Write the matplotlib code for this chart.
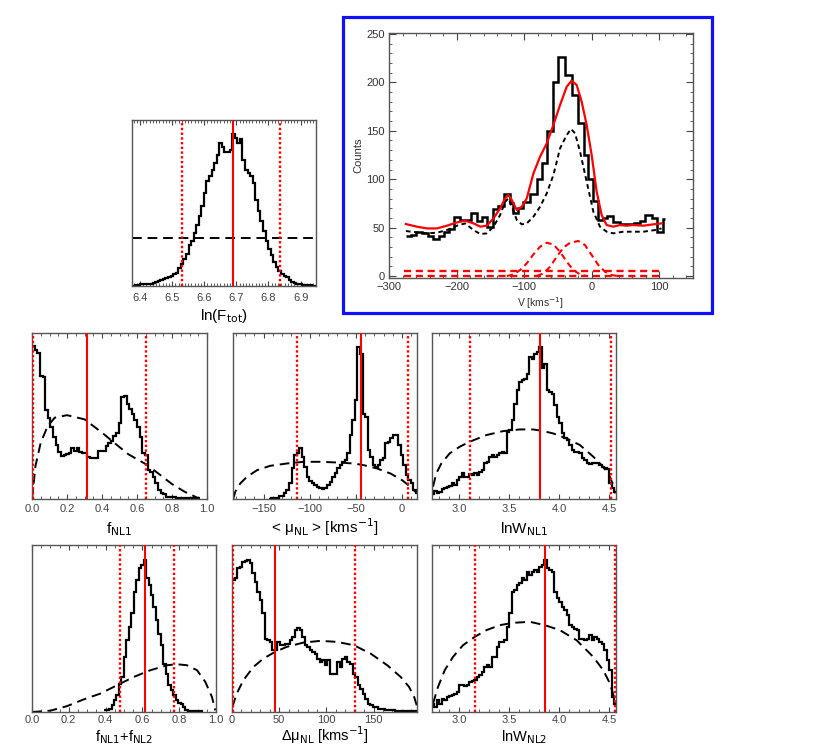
import numpy as np
import matplotlib
matplotlib.use('Agg')
import matplotlib.pyplot as plt
from matplotlib.patches import Rectangle
from matplotlib.ticker import MultipleLocator

plt.rcParams['font.family'] = ['Liberation Sans Narrow', 'Liberation Sans', 'DejaVu Sans']
plt.rcParams['mathtext.fontset'] = 'custom'
plt.rcParams['mathtext.rm'] = 'Liberation Sans Narrow'
plt.rcParams['mathtext.it'] = 'Liberation Sans Narrow:italic'

# ---- spectrum (top right panel) ----
spec_edges = [-275, -267, -259.6, -251, -243, -235, -226.6, -219.2, -211.8, -203.4,
              -195.6, -187.2, -178.8, -170, -162.6, -154.2, -146.3, -138, -130.5, -120.7,
              -115.8, -108.4, -102, -91, -81.3, -73.9, -66.5, -56.7, -49.3, -39.4,
              -29.6, -19.7, -11.3, -5, 2.5, 9.9, 17.2, 22.2, 32, 42,
              62, 71, 79, 89, 96, 106, 108]
spec_counts = [41, 42, 46, 44, 41, 38, 41, 46, 49, 61,
               58, 58, 65, 57, 61, 51, 69, 72, 85, 75,
               65, 70, 76, 85, 100, 117, 150, 200, 226, 208,
               187, 158, 125, 100, 78, 58, 60, 62, 56, 54,
               55, 57, 63, 60, 46, 59]

model_v = [-275, -258.6, -243.8, -229, -214.3, -199.5, -187.2, -174.9, -165, -155.2,
           -145.3, -135.5, -128.1, -123.2, -118.2, -110.8, -103.4, -96.1, -86.2, -76.4,
           -66.5, -56.7, -46.8, -36.9, -29.6, -22.2, -14.8, -7.4, 0, 7.4,
           14.8, 22.2, 32, 41.9, 51.7, 61.6, 76.4, 91.1, 103.4]
model_counts = [53.7, 51, 49.2, 49.2, 52, 55.4, 57.2, 54.4, 51, 52,
                59.6, 69.9, 80.2, 83.7, 78.5, 68.2, 71.6, 80.2, 106, 123.3,
                137, 156, 176.7, 195.6, 201.8, 197.3, 180, 156, 125, 87.1,
                63, 52.7, 51, 52.7, 52, 52.7, 52, 53.4, 54.4]

broad_v = [-275, -258.6, -243.8, -229, -214.3, -199.5, -187.2, -174.9, -165, -155.2,
           -145.3, -135.5, -128.1, -123.2, -118.2, -110.8, -103.4, -96.1, -86.2, -76.4,
           -66.5, -56.7, -46.8, -36.9, -30.5, -24.6, -17.2, -7.4, 2.5, 12.3,
           22.2, 32, 46.8, 61.6, 76.4, 93.6, 103.4]
broad_counts = [46.5, 45.1, 44.1, 44.8, 47.5, 52, 54.4, 47.5, 43.4, 44.1,
                51, 63, 76.8, 80.2, 71.6, 57.9, 53.4, 54.4, 61.3, 71.6,
                85.4, 104.3, 131.9, 145.7, 151.9, 147.4, 128.4, 97.5, 66.5, 51,
                45.8, 44.1, 45.8, 45.8, 45.8, 47.5, 49.2]

nl1_v = [-125.6, -115.8, -105.9, -96.1, -86.2, -76.4, -66.5, -56.7, -46.8, -36.9, -27.1, -17.2, -7.4]
nl1_counts = [0, 1.7, 6.2, 13.1, 22.4, 30.3, 34.4, 32.7, 25.1, 14.8, 6.2, 1.7, 0]
nl2_v = [-81.3, -71.4, -61.6, -51.7, -41.9, -32, -19.7, -9.9, 0, 9.9, 19.7, 29.6, 39.4]
nl2_counts = [0, 2.8, 9.6, 20, 29.3, 34.4, 36.2, 32, 21.7, 11.4, 4.5, 1, 0]
flat_v = [-278, 100]
flat_levels = [5, 0]

# ---- posterior histograms (heights as fraction of panel height) ----
lnf_lo, lnf_bin = 6.375, 0.008
lnf_hist = [0.3, 0.5, 0.8, 1.2, 1.4, 1.5, 1.4, 1.2, 1.6, 2.5, 3, 3.5, 4.4, 4.8, 5.5, 6, 7, 8,
            11, 13, 16, 19.5, 24.5, 27, 32, 37, 42, 48, 56, 63, 66, 70, 74, 79, 86, 84,
            81, 80.5, 82, 91.5, 89, 86, 88.5, 76, 70, 68, 66, 62, 52, 45, 39, 33, 27, 22,
            18.5, 14.5, 11.5, 9, 7.2, 6, 5.5, 3.8, 2.6, 2, 1.5, 1.1, 0.9, 0.7, 0.5, 0.4, 0.3, 0.2]
lnf_prior = 28.7
lnf_best, lnf_lims = 6.69, [6.53, 6.835]

fnl1_lo, fnl1_bin = 0.0, 0.015
fnl1_hist = [0.92, 0.90, 0.88, 0.74, 0.735, 0.535, 0.485, 0.435, 0.375, 0.325,
             0.285, 0.259, 0.265, 0.269, 0.275, 0.305, 0.289, 0.305, 0.285, 0.275,
             0.275, 0.255, 0.245, 0.245, 0.25, 0.289, 0.289, 0.29, 0.319, 0.339,
             0.35, 0.38, 0.40, 0.455, 0.615, 0.62, 0.575, 0.545, 0.515, 0.475,
             0.435, 0.375, 0.275, 0.265, 0.174, 0.164, 0.134, 0.094, 0.054, 0.035,
             0.028, 0.014, 0.014, 0.012, 0.01, 0.006, 0.004, 0.004, 0.004, 0.004,
             0.004, 0.004, 0.004, 0.008]
fnl1_px = [0.0, 0.02, 0.05, 0.09, 0.13, 0.2, 0.3, 0.4, 0.48, 0.55, 0.65, 0.72, 0.8, 0.87, 0.95]
fnl1_py = [0.0, 0.20, 0.34, 0.44, 0.49, 0.505, 0.48, 0.40, 0.33, 0.27, 0.21, 0.155, 0.09, 0.045, 0.005]
fnl1_best, fnl1_lims = 0.315, [0.003, 0.653]

mu_lo, mu_bin = -144.5, 2.75
mu_hist = [0.0, 0.004, 0.008, 0.008, 0.018, 0.018, 0.034, 0.054, 0.094, 0.184,
           0.265, 0.275, 0.305, 0.255, 0.194, 0.134, 0.108, 0.094, 0.084, 0.074,
           0.068, 0.058, 0.068, 0.084, 0.104, 0.134, 0.154, 0.184, 0.204, 0.224,
           0.234, 0.275, 0.385, 0.475, 0.595, 0.916, 0.876, 0.515, 0.495, 0.295,
           0.255, 0.204, 0.194, 0.204, 0.234, 0.245, 0.335, 0.345, 0.365, 0.385,
           0.385, 0.325, 0.265, 0.204, 0.144, 0.114, 0.094, 0.054, 0.034]
mu_px = [-183, -180.7, -175.3, -168, -157, -142.8, -124.7, -106.6, -88.5, -70.5,
         -52.4, -41.6, -27.1, -12.6, 0, 9, 14.5]
mu_py = [0.0, 0.044, 0.094, 0.134, 0.174, 0.2, 0.214, 0.224, 0.224, 0.22,
         0.214, 0.204, 0.184, 0.154, 0.114, 0.074, 0.044]
mu_best, mu_lims = -44.5, [-113.8, 6.5]

lnw1_lo, lnw1_bin = 2.725, 0.025
lnw1_hist = [0.03, 0.05, 0.038, 0.044, 0.058, 0.068, 0.074, 0.078, 0.094, 0.084,
             0.114, 0.134, 0.154, 0.13, 0.134, 0.15, 0.144, 0.158, 0.144, 0.164,
             0.174, 0.214, 0.224, 0.255, 0.265, 0.255, 0.265, 0.275, 0.285, 0.275,
             0.405, 0.415, 0.475, 0.575, 0.655, 0.705, 0.716, 0.725, 0.755, 0.856,
             0.846, 0.876, 0.886, 0.916, 0.79, 0.816, 0.655, 0.645, 0.635, 0.565,
             0.495, 0.455, 0.395, 0.365, 0.355, 0.325, 0.295, 0.285, 0.285, 0.275,
             0.245, 0.234, 0.214, 0.21, 0.214, 0.218, 0.214, 0.204, 0.194, 0.184,
             0.178, 0.094, 0.064, 0.04]
lnw1_px = [2.74, 2.773, 2.823, 2.907, 3.007, 3.107, 3.273, 3.44, 3.607, 3.74,
           3.84, 3.94, 4.073, 4.207, 4.34, 4.423, 4.49, 4.533, 4.557]
lnw1_py = [0.074, 0.154, 0.214, 0.275, 0.315, 0.345, 0.385, 0.409, 0.419, 0.419,
           0.409, 0.395, 0.365, 0.325, 0.255, 0.204, 0.154, 0.094, 0.034]
lnw1_best, lnw1_lims = 3.813, [3.107, 4.52]

fsum_lo, fsum_bin = 0.392, 0.0134
fsum_hist = [0.01, 0.01, 0.02, 0.04, 0.07, 0.10, 0.17, 0.21, 0.33, 0.43,
             0.51, 0.59, 0.72, 0.79, 0.86, 0.88, 0.91, 0.80, 0.76, 0.70,
             0.63, 0.55, 0.47, 0.40, 0.29, 0.23, 0.16, 0.13, 0.10, 0.07,
             0.054, 0.046, 0.03, 0.014, 0.008, 0.004, 0.004, 0.004, 0.004, 0.004]
fsum_px = [0.0, 0.1, 0.19, 0.28, 0.371, 0.462, 0.553, 0.643, 0.734, 0.788, 0.842, 0.897, 0.942, 0.978, 0.996]
fsum_py = [0.0, 0.008, 0.035, 0.075, 0.11, 0.16, 0.21, 0.25, 0.28, 0.286, 0.28, 0.25, 0.18, 0.09, 0.01]
fsum_best, fsum_lims = 0.614, [0.48, 0.774]

dmu_lo, dmu_bin = 0.0, 2.66
dmu_hist = [0.79, 0.80, 0.86, 0.866, 0.90, 0.906, 0.91, 0.89, 0.83, 0.78,
            0.72, 0.67, 0.59, 0.44, 0.43, 0.42, 0.374, 0.374, 0.42, 0.40,
            0.40, 0.41, 0.41, 0.43, 0.45, 0.49, 0.504, 0.49, 0.45, 0.40,
            0.39, 0.37, 0.36, 0.35, 0.32, 0.30, 0.314, 0.28, 0.31, 0.23,
            0.23, 0.23, 0.30, 0.27, 0.32, 0.33, 0.30, 0.29, 0.23, 0.21,
            0.16, 0.14, 0.11, 0.08, 0.05, 0.04, 0.03, 0.03, 0.02, 0.02,
            0.02, 0.014, 0.014, 0.014, 0.014, 0.006, 0.006, 0.006, 0.006, 0.004,
            0.004, 0.004, 0.004, 0.004]
dmu_px = [0.35, 5, 12, 22.7, 33.3, 45.7, 58, 75.9, 93.6, 111, 129, 146.8, 164.5, 178.7, 187.6, 193, 195.7]
dmu_py = [0.03, 0.11, 0.19, 0.27, 0.32, 0.36, 0.39, 0.416, 0.426, 0.42, 0.40, 0.35, 0.28, 0.21, 0.15, 0.09, 0.04]
dmu_best, dmu_lims = 45.7, [0.6, 130]

lnw2_lo, lnw2_bin = 2.725, 0.025
lnw2_hist = [0.05, 0.03, 0.07, 0.05, 0.08, 0.07, 0.09, 0.094, 0.10, 0.11,
             0.12, 0.16, 0.16, 0.154, 0.16, 0.18, 0.186, 0.19, 0.21, 0.22,
             0.24, 0.27, 0.28, 0.27, 0.33, 0.33, 0.39, 0.42, 0.42, 0.43,
             0.51, 0.59, 0.72, 0.73, 0.76, 0.77, 0.80, 0.79, 0.84, 0.82,
             0.84, 0.85, 0.84, 0.87, 0.88, 0.91, 0.86, 0.85, 0.84, 0.72,
             0.68, 0.66, 0.63, 0.61, 0.58, 0.52, 0.51, 0.50, 0.49, 0.44,
             0.44, 0.43, 0.44, 0.46, 0.43, 0.45, 0.44, 0.42, 0.41, 0.37,
             0.31, 0.25, 0.09, 0.05]
lnw2_px = [2.74, 2.79, 2.857, 2.94, 3.04, 3.157, 3.273, 3.407, 3.54, 3.707,
           3.857, 4.007, 4.173, 4.34, 4.44, 4.507, 4.547, 4.567]
lnw2_py = [0.05, 0.15, 0.25, 0.33, 0.40, 0.45, 0.49, 0.52, 0.534, 0.54,
           0.52, 0.49, 0.43, 0.33, 0.25, 0.17, 0.09, 0.03]
lnw2_best, lnw2_lims = 3.857, [3.157, 4.557]

W, H = 831, 748
fig = plt.figure(figsize=(W / 100, H / 100), dpi=100)
FRAME = '#555555'
TICKC = '#444444'


def box(l, t, r, b):
    # axes from pixel corners (left, top, right, bottom)
    return fig.add_axes([l / W, 1 - b / H, (r - l) / W, (b - t) / H])


def style(ax, major, minor, pad=3.5):
    for s in ax.spines.values():
        s.set_color(FRAME)
        s.set_linewidth(1.0)
    ax.xaxis.set_major_locator(MultipleLocator(major))
    ax.xaxis.set_minor_locator(MultipleLocator(minor))
    ax.tick_params(axis='x', which='both', direction='in', top=True, bottom=True,
                   color=TICKC, labelcolor=TICKC, labelsize=8, pad=pad)
    ax.tick_params(axis='x', which='major', length=3.5)
    ax.tick_params(axis='x', which='minor', length=2)
    ax.set_yticks([])


def posterior(ax, lo, width, hist, px, py, best, lims, xlim, ymax=1.0):
    edges = lo + width * np.arange(len(hist) + 1)
    ax.stairs(hist, edges, baseline=None, color='black', lw=1.6, zorder=2)
    ax.plot(px, py, color='black', lw=1.4, dashes=(5, 3), zorder=2)
    ax.axvline(best, color='red', lw=1.5, zorder=3)
    for v in lims:
        ax.axvline(v, color='red', lw=1.7, ls=(0, (1, 1)), zorder=3)
    ax.set_xlim(xlim)
    ax.set_ylim(0, ymax)


def label(ax, text, y, size=11):
    # y is the text baseline in pixels from the top
    pos = ax.get_position()
    fig.text((pos.x0 + pos.x1) / 2, 1 - y / H, text, ha='center', va='baseline', fontsize=size)


# ln(F_tot)
ax = box(132, 120, 316, 286)
posterior(ax, lnf_lo, lnf_bin, lnf_hist, [6.375, 6.948], [lnf_prior, lnf_prior],
          lnf_best, lnf_lims, (6.375, 6.948), ymax=100)
style(ax, 0.1, 0.01, 5)
label(ax, r'ln(F$_{\rm tot}$)', 320)

# row 2
ax = box(32, 333, 207, 499)
posterior(ax, fnl1_lo, fnl1_bin, fnl1_hist, fnl1_px, fnl1_py, fnl1_best, fnl1_lims, (0, 1))
style(ax, 0.2, 0.05)
label(ax, r'f$_{\rm NL1}$', 533)

ax = box(233, 333, 417, 499)
posterior(ax, mu_lo, mu_bin, mu_hist, mu_px, mu_py, mu_best, mu_lims, (-183.2, 16.3))
style(ax, 50, 10)
label(ax, r'< μ$_{\rm NL}$ > [kms$^{-1}$]', 533)

ax = box(432, 333, 616, 499)
posterior(ax, lnw1_lo, lnw1_bin, lnw1_hist, lnw1_px, lnw1_py, lnw1_best, lnw1_lims, (2.73, 4.567))
style(ax, 0.5, 0.1)
label(ax, r'lnW$_{\rm NL1}$', 533)

# row 3
ax = box(32, 545, 216, 712)
posterior(ax, fsum_lo, fsum_bin, fsum_hist, fsum_px, fsum_py, fsum_best, fsum_lims, (0, 1))
style(ax, 0.2, 0.05, 2.5)
label(ax, r'f$_{\rm NL1}$+f$_{\rm NL2}$', 741, 10.5)

ax = box(232, 545, 417, 712)
posterior(ax, dmu_lo, dmu_bin, dmu_hist, dmu_px, dmu_py, dmu_best, dmu_lims, (0, 196))
style(ax, 50, 10, 2.5)
label(ax, r'Δμ$_{\rm NL}$ [kms$^{-1}$]', 741, 10.5)

ax = box(432, 545, 616, 712)
posterior(ax, lnw2_lo, lnw2_bin, lnw2_hist, lnw2_px, lnw2_py, lnw2_best, lnw2_lims, (2.73, 4.567))
style(ax, 0.5, 0.1, 2.5)
label(ax, r'lnW$_{\rm NL2}$', 741, 10.5)

# spectrum panel
ax = box(389, 33, 693, 278)
ax.stairs(spec_counts, spec_edges, baseline=None, color='black', lw=1.8)
ax.plot(broad_v, broad_counts, color='black', lw=1.4, dashes=(2.4, 1.8))
ax.plot(model_v, model_counts, color='red', lw=1.6)
ax.plot(nl1_v, nl1_counts, color='red', lw=1.5, dashes=(3, 2))
ax.plot(nl2_v, nl2_counts, color='red', lw=1.5, dashes=(3, 2))
for lev in flat_levels:
    ax.plot(flat_v, [lev, lev], color='red', lw=1.7, dashes=(3, 2))
ax.set_xlim(-300, 150)
ax.set_ylim(-2, 251)
for s in ax.spines.values():
    s.set_color(FRAME)
    s.set_linewidth(1.0)
ax.xaxis.set_major_locator(MultipleLocator(100))
ax.xaxis.set_minor_locator(MultipleLocator(20))
ax.yaxis.set_major_locator(MultipleLocator(50))
ax.yaxis.set_minor_locator(MultipleLocator(10))
ax.tick_params(which='both', direction='in', top=True, right=True,
               color=TICKC, labelcolor='#333333', labelsize=8)
ax.tick_params(which='major', length=5)
ax.tick_params(which='minor', length=2.5)
ax.tick_params(axis='x', pad=3)
ax.tick_params(axis='y', pad=3)
fig.text(541 / W, 1 - 303 / H, r'V [kms$^{-1}$]', ha='center', va='center', fontsize=7.5, color='#333333')
fig.text(358 / W, 1 - 155 / H, 'Counts', ha='center', va='center', fontsize=8, rotation=90, color='#333333')

fig.patches.append(Rectangle((343 / W, 1 - 313 / H), (712 - 343) / W, (313 - 17) / H,
                             transform=fig.transFigure, fill=False, ec='#1010ff', lw=2.3))

plt.savefig('out.png', dpi=100)
